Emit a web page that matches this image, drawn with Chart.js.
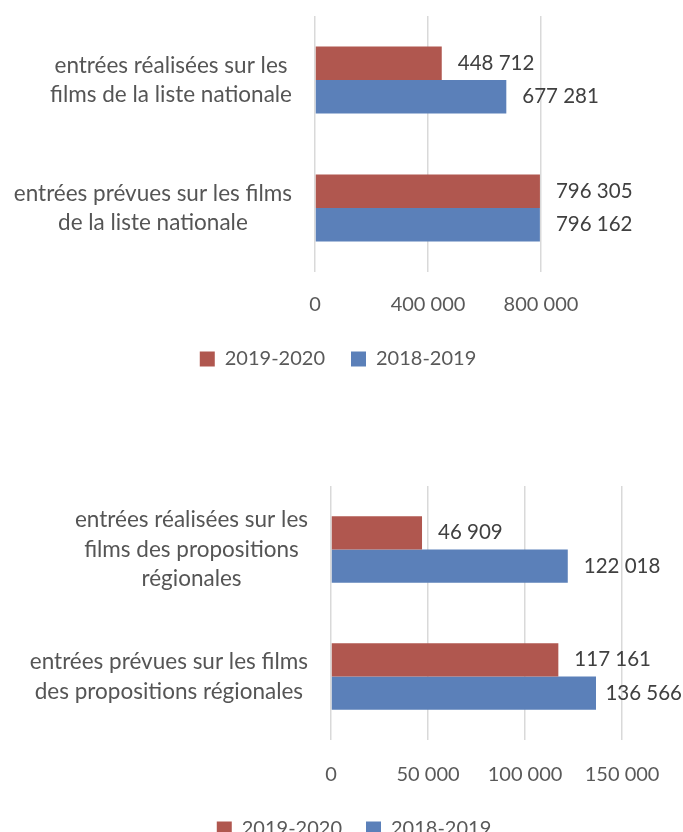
<!DOCTYPE html>
<html>
<head>
<meta charset="utf-8">
<script src="https://cdn.jsdelivr.net/npm/chart.js@4.4.1/dist/chart.umd.min.js"></script>
<style>
  body { margin: 0; background: #fff; overflow: hidden; width: 683px; height: 832px; position: relative; }
  .box { position: absolute; left: 0; width: 683px; height: 380px; }
</style>
</head>
<body>
<div class="box" style="top:0"><canvas id="chartNat"></canvas></div>
<div class="box" style="top:470px"><canvas id="chartReg"></canvas></div>
<script>
// series names (legend order)
const seriesNames = ['2019-2020', '2018-2019'];

// chart 1 : liste nationale
const natLabels = [
    ['entrées réalisées sur les', 'films de la liste nationale'],
    ['entrées prévues sur les films', 'de la liste nationale']
];
const nat2020 = [448712, 796305];
const nat2019 = [677281, 796162];
const natTicks = [0, 400000, 800000];

// chart 2 : propositions régionales
const regLabels = [
    ['entrées réalisées sur les', 'films des propositions', 'régionales'],
    ['entrées prévues sur les films', 'des propositions régionales']
];
const reg2020 = [46909, 117161];
const reg2019 = [122018, 136566];
const regTicks = [0, 50000, 100000, 150000];

const red = '#B0574F';
const blue = '#5B80B9';
const FONT = 'Lato';

function fmt(v) {
    return String(v).replace(/\B(?=(\d{3})+(?!\d))/g, ' ');
}

// category labels, each block centered and right-aligned to the axis
const yLabels = {
    id: 'yLabels',
    afterDraw(chart) {
        const ctx = chart.ctx;
        const y = chart.scales.y;
        ctx.save();
        ctx.font = '22.5px ' + FONT;
        ctx.fillStyle = '#555555';
        ctx.textAlign = 'center';
        ctx.textBaseline = 'middle';
        chart.data.labels.forEach((lines, i) => {
            const w = Math.max(...lines.map(l => ctx.measureText(l).width));
            const cx = chart.chartArea.left - 23 - w / 2;
            const cy = y.getPixelForValue(i);
            lines.forEach((l, j) => {
                ctx.fillText(l, cx, cy + (j - (lines.length - 1) / 2) * 29.5);
            });
        });
        ctx.restore();
    }
};

// value labels at the end of each bar
const valueLabels = {
    id: 'valueLabels',
    afterDatasetsDraw(chart) {
        const ctx = chart.ctx;
        ctx.save();
        ctx.font = '20.5px ' + FONT;
        ctx.fillStyle = '#404040';
        ctx.textAlign = 'left';
        ctx.textBaseline = 'middle';
        chart.data.datasets.forEach((ds, i) => {
            chart.getDatasetMeta(i).data.forEach((bar, j) => {
                const txt = fmt(ds.data[j]);
                const w = ctx.measureText(txt).width;
                const x = Math.min(bar.x + 16, chart.width - w - 1);
                ctx.fillText(txt, x, bar.y);
            });
        });
        ctx.restore();
    }
};

function makeChart(id, labels, d2020, d2019, ticks, opt) {
    return new Chart(document.getElementById(id), {
        type: 'bar',
        data: {
            labels: labels,
            datasets: [
                { label: seriesNames[0], data: d2020, backgroundColor: red },
                { label: seriesNames[1], data: d2019, backgroundColor: blue }
            ]
        },
        options: {
            indexAxis: 'y',
            responsive: true,
            maintainAspectRatio: false,
            animation: false,
            barPercentage: 1,
            categoryPercentage: 0.525,
            layout: { padding: { top: 16, left: opt.left, right: opt.right, bottom: 1 } },
            scales: {
                x: {
                    min: 0,
                    max: opt.max,
                    afterBuildTicks: s => { s.ticks = ticks.map(v => ({ value: v })); },
                    afterFit: s => { s.height = opt.xHeight; },
                    grid: { color: '#d9d9d9', lineWidth: 1.5, drawTicks: false },
                    border: { display: false },
                    ticks: {
                        padding: opt.tickPad,
                        color: '#595959',
                        font: { family: FONT, size: 20 },
                        callback: v => fmt(v)
                    }
                },
                y: {
                    grid: { display: false },
                    border: { display: false },
                    ticks: { display: false },
                    afterFit: s => { s.width = opt.yWidth; }
                }
            },
            plugins: {
                legend: {
                    position: 'bottom',
                    labels: {
                        boxWidth: 15,
                        boxHeight: 15,
                        padding: opt.legendPad,
                        color: '#595959',
                        font: { family: FONT, size: 20 }
                    }
                },
                tooltip: { enabled: false }
            }
        },
        plugins: [yLabels, valueLabels]
    });
}

makeChart('chartNat', natLabels, nat2020, nat2019, natTicks,
    { left: 0, right: 7, yWidth: 315, max: 1278000, xHeight: 51, tickPad: 21, legendPad: 26 });
makeChart('chartReg', regLabels, reg2020, reg2019, regTicks,
    { left: 25, right: 0, yWidth: 306, max: 181400, xHeight: 55, tickPad: 23, legendPad: 24 });
</script>
</body>
</html>
